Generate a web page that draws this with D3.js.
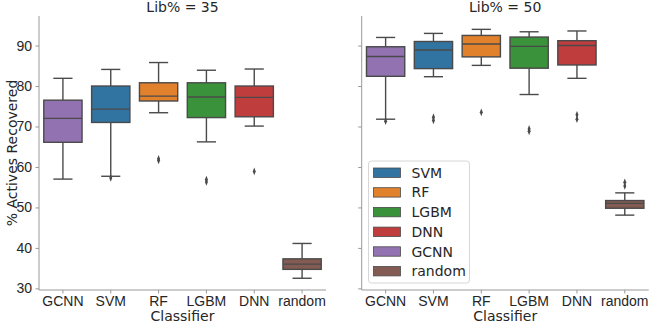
<!DOCTYPE html>
<html>
<head>
<meta charset="utf-8">
<script src="https://cdn.jsdelivr.net/npm/d3@7"></script>
<style>
  html, body { margin: 0; padding: 0; background: #fff; }
  svg { display: block; font-family: "DejaVu Sans", sans-serif; }
  .axis text { fill: #262626; font-size: 14px; }
</style>
</head>
<body>
<div id="chart"></div>
<script>
// box plot stats per classifier
const classifiers = ["GCNN", "SVM", "RF", "LGBM", "DNN", "random"];
const colors = ["#9372b2", "#3274a1", "#e1812c", "#3a923a", "#c03d3e", "#845b53"];
const legendOrder = ["SVM", "RF", "LGBM", "DNN", "GCNN", "random"];
const panels = ["Lib% = 35", "Lib% = 50"];
const yTicks = [30, 40, 50, 60, 70, 80, 90];

// Lib% = 35
const lo35  = [57.0, 57.7, 73.4, 66.2, 70.1, 32.5];
const q1_35 = [66.1, 71.0, 76.3, 72.2, 72.4, 34.7];
const md35  = [72.0, 74.3, 77.5, 77.3, 77.2, 36.0];
const q3_35 = [76.5, 80.0, 80.8, 80.8, 80.0, 37.3];
const hi35  = [81.9, 84.1, 85.8, 83.9, 84.2, 41.1];
const out35 = [[], [57.3], [61.6, 62.0], [56.3, 56.9], [58.9], []];

// Lib% = 50
const lo50  = [71.8, 82.3, 85.1, 77.9, 81.9, 48.1];
const q1_50 = [82.4, 84.3, 87.2, 84.4, 85.2, 49.8];
const md50  = [87.3, 88.9, 90.4, 89.8, 90.0, 51.0];
const q3_50 = [89.7, 91.0, 92.5, 92.1, 91.2, 51.7];
const hi50  = [92.0, 93.0, 94.0, 93.4, 93.6, 53.6];
const out50 = [[71.3], [71.5, 72.3], [73.5], [68.8, 69.4], [71.8, 72.9], [55.3, 56.2]];

const stats = [
  { lo: lo35, q1: q1_35, md: md35, q3: q3_35, hi: hi35, out: out35 },
  { lo: lo50, q1: q1_50, md: md50, q3: q3_50, hi: hi50, out: out50 }
];

const W = 652, H = 324;
const lineCol = "#4a4a4a", spineCol = "#999";
const svg = d3.select("#chart").append("svg").attr("width", W).attr("height", H);

const yTop = 16, yBottom = 290;
const y = d3.scaleLinear().domain([29.6, 97.3]).range([yBottom, yTop]);
const panelLeft = [39, 361.7], panelW = 287;
const colorOf = d3.scaleOrdinal().domain(classifiers).range(colors);

panels.forEach((title, p) => {
  const x = d3.scaleBand().domain(classifiers).range([panelLeft[p], panelLeft[p] + panelW]).paddingInner(0).paddingOuter(0);
  const g = svg.append("g");
  const s = stats[p];

  // axes
  const gy = g.append("g").attr("class", "axis").attr("transform", `translate(${panelLeft[p]},0)`)
    .call(d3.axisLeft(y).tickValues(yTicks).tickSize(3.5).tickPadding(3.5).tickFormat(p === 0 ? d3.format("d") : () => ""));
  const gx = g.append("g").attr("class", "axis").attr("transform", `translate(0,${yBottom})`)
    .call(d3.axisBottom(x).tickSize(3.5).tickPadding(2.5));
  [gx, gy].forEach((a) => {
    a.select(".domain").attr("stroke", spineCol).attr("stroke-width", 1);
    a.selectAll(".tick line").attr("stroke", spineCol);
  });
  gy.select(".domain").attr("d", `M-0,${yBottom}V${yTop}`);
  gx.select(".domain").attr("d", `M${panelLeft[p]},0H${panelLeft[p] + panelW}`);

  g.append("text").attr("x", panelLeft[p] + panelW / 2).attr("y", 12)
    .attr("text-anchor", "middle").attr("fill", "#262626").attr("font-size", 14).text(title);
  g.append("text").attr("x", panelLeft[p] + panelW / 2).attr("y", 320.5)
    .attr("text-anchor", "middle").attr("fill", "#262626").attr("font-size", 14).text("Classifier");

  const bw = x.bandwidth() * 0.8;
  classifiers.forEach((c, i) => {
    const cx = x(c) + x.bandwidth() / 2;
    const b = g.append("g");
    // whiskers
    b.append("line").attr("x1", cx).attr("x2", cx).attr("y1", y(s.hi[i])).attr("y2", y(s.q3[i]))
      .attr("stroke", lineCol).attr("stroke-width", 1.4);
    b.append("line").attr("x1", cx).attr("x2", cx).attr("y1", y(s.q1[i])).attr("y2", y(s.lo[i]))
      .attr("stroke", lineCol).attr("stroke-width", 1.4);
    [s.hi[i], s.lo[i]].forEach((v) => {
      b.append("line").attr("x1", cx - bw / 4).attr("x2", cx + bw / 4).attr("y1", y(v)).attr("y2", y(v))
        .attr("stroke", lineCol).attr("stroke-width", 1.4);
    });
    // box
    b.append("rect").attr("x", cx - bw / 2).attr("width", bw)
      .attr("y", y(s.q3[i])).attr("height", y(s.q1[i]) - y(s.q3[i]))
      .attr("fill", colorOf(c)).attr("stroke", lineCol).attr("stroke-width", 1.4);
    b.append("line").attr("x1", cx - bw / 2).attr("x2", cx + bw / 2).attr("y1", y(s.md[i])).attr("y2", y(s.md[i]))
      .attr("stroke", lineCol).attr("stroke-width", 1.4);
    // outliers
    b.selectAll("path.out").data(s.out[i]).join("path").attr("class", "out")
      .attr("transform", (v) => `translate(${cx},${y(v)}) scale(0.8,1.2)`)
      .attr("d", d3.symbol(d3.symbolDiamond, 12)).attr("fill", lineCol);
  });

  if (p === 1) {
    const lg = g.append("g").attr("transform", "translate(368.5,161)");
    lg.append("rect").attr("width", 101).attr("height", 122).attr("rx", 3)
      .attr("fill", "#fff").attr("fill-opacity", 0.8).attr("stroke", "#d6d6d6");
    legendOrder.forEach((c, k) => {
      const row = lg.append("g").attr("transform", `translate(0,${11.7 + k * 19.7})`);
      row.append("rect").attr("x", 5).attr("y", -4.7).attr("width", 27).attr("height", 9.4)
        .attr("fill", colorOf(c)).attr("stroke", lineCol).attr("stroke-width", 0.8);
      row.append("text").attr("x", 43).attr("y", 5).attr("fill", "#262626").attr("font-size", 14).text(c);
    });
  }
});

svg.append("text").attr("transform", `translate(17,${(yTop + yBottom) / 2}) rotate(-90)`)
  .attr("text-anchor", "middle").attr("fill", "#262626").attr("font-size", 14).text("% Actives Recovered");
</script>
</body>
</html>
